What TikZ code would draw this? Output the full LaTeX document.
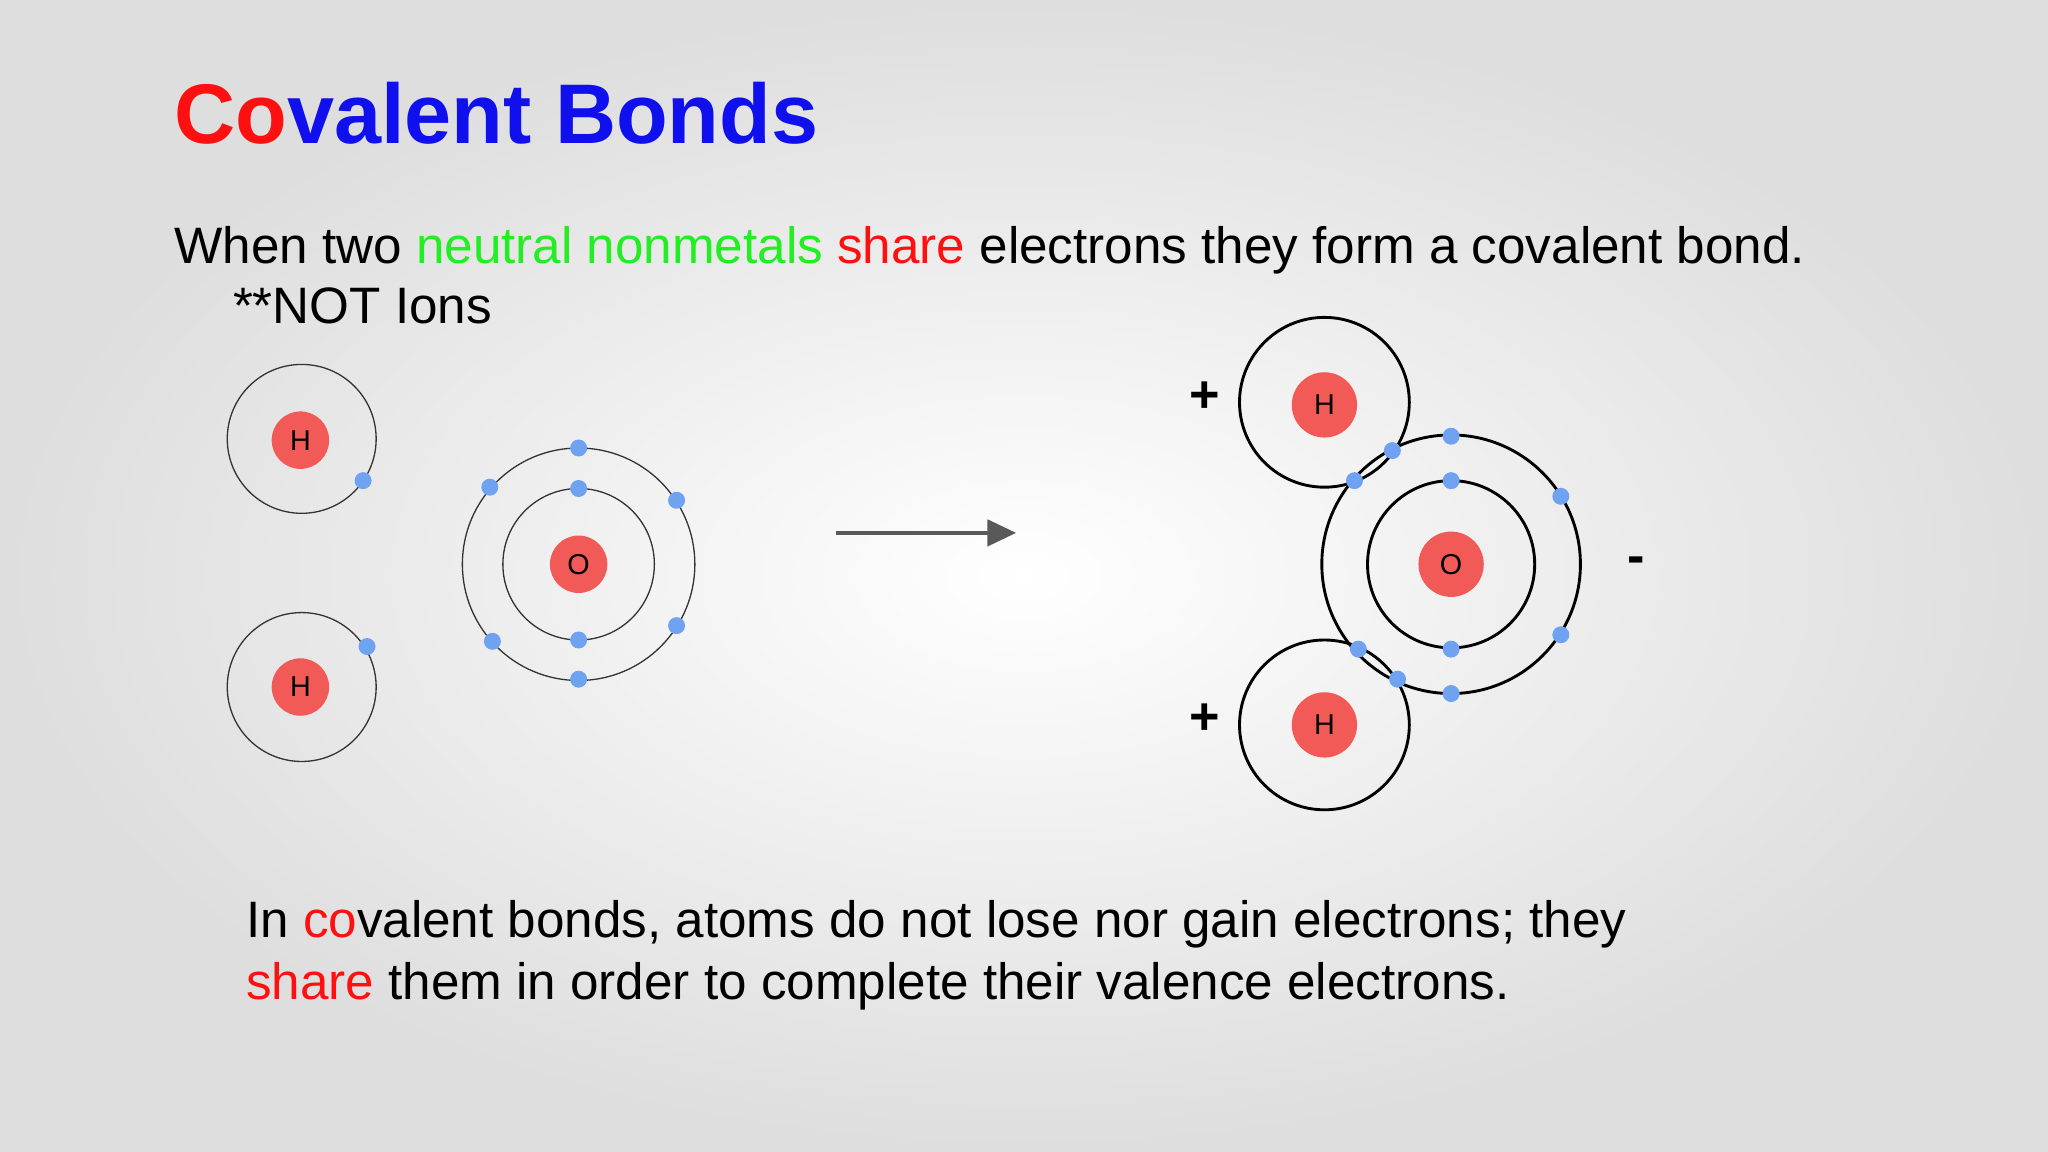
\documentclass[tikz,border=0pt]{standalone}
\usepackage{fontspec}
\setmainfont{Liberation Sans}
\usetikzlibrary{arrows.meta}
\definecolor{nuc}{HTML}{F25A57}
\definecolor{ele}{HTML}{6FA3F2}
\definecolor{grn}{HTML}{22EE22}
\definecolor{rd}{HTML}{FF1010}
\definecolor{bl}{HTML}{1010EE}
\begin{document}
\begin{tikzpicture}[x=0.5pt,y=-0.5pt,
  nucleus/.style={circle,fill=nuc,minimum size=#1,inner sep=0pt,font=\fontsize{11}{11}\selectfont},
  el/.style={circle,fill=ele,minimum size=6.5pt,inner sep=0pt},
  shell/.style={draw=black!80,line width=0.5pt},
  shellb/.style={draw=black,line width=1.1pt},
  txt/.style={anchor=base west,inner sep=0pt,font=\fontsize{19.6}{19.6}\selectfont}]
\shade[inner color=white,outer color=black!13] (0,0) rectangle (1568,882);
\useasboundingbox (0,0) rectangle (1568,882);
\node[anchor=base west,inner sep=0pt,font=\fontsize{32.4}{32.4}\selectfont\bfseries] (title) at (133,110) {\textcolor{rd}{Co}\textcolor{bl}{valent Bonds}};
\node[txt] (l1) at (133,202) {When two \textcolor{grn}{neutral nonmetals} \textcolor{rd}{share} electrons they form a covalent bond.};
\node[txt] (l2) at (178,248) {**NOT Ions};
\node[txt] (l3) at (188,718) {In \textcolor{rd}{co}valent bonds, atoms do not lose nor gain electrons; they};
\node[txt] (l4) at (188,765) {\textcolor{rd}{share} them in order to complete their valence electrons.};
% left
\draw[shell] (231,336) circle (57);
\node[nucleus=22pt] (h1) at (230,337) {H};
\node[el] (e1) at (278,368) {};
\draw[shell] (231,526) circle (57);
\node[nucleus=22pt] (h2) at (230,526) {H};
\node[el] (e2) at (281,495) {};
\draw[shell] (443,432) circle (58);
\draw[shell] (443,432) circle (89);
\node[nucleus=22pt] (o1) at (443,432) {O};
\foreach \p in {(443,374),(443,490),(443,343),(443,520),(375,373),(518,383),(377,491),(518,479)} \node[el] at \p {};
% arrow
\coordinate (a1) at (640,408); \coordinate (a2) at (778,408);
\draw[black!65,line width=1.6pt,-{Triangle[length=11pt,width=10pt]}] (a1) -- (a2);
% right
\draw[shellb] (1014,308) circle (65);
\draw[shellb] (1014,555) circle (65);
\draw[shellb] (1111,432) circle (64);
\draw[shellb] (1111,432) circle (99);
\node[nucleus=25pt] (h3) at (1014,310) {H};
\node[nucleus=25pt] (h4) at (1014,555) {H};
\node[nucleus=25pt] (o2) at (1111,432) {O};
\foreach \p in {(1111,334),(1111,368),(1111,497),(1111,531),(1195,380),(1195,486),(1066,345),(1037,368),(1040,497),(1070,520)} \node[el] at \p {};
\node[font=\fontsize{20}{20}\selectfont\bfseries] (p1) at (922,304) {+};
\node[font=\fontsize{20}{20}\selectfont\bfseries] (p2) at (922,551) {+};
\node[font=\fontsize{20}{20}\selectfont\bfseries] (m) at (1253,433) {-};
\end{tikzpicture}
\end{document}
